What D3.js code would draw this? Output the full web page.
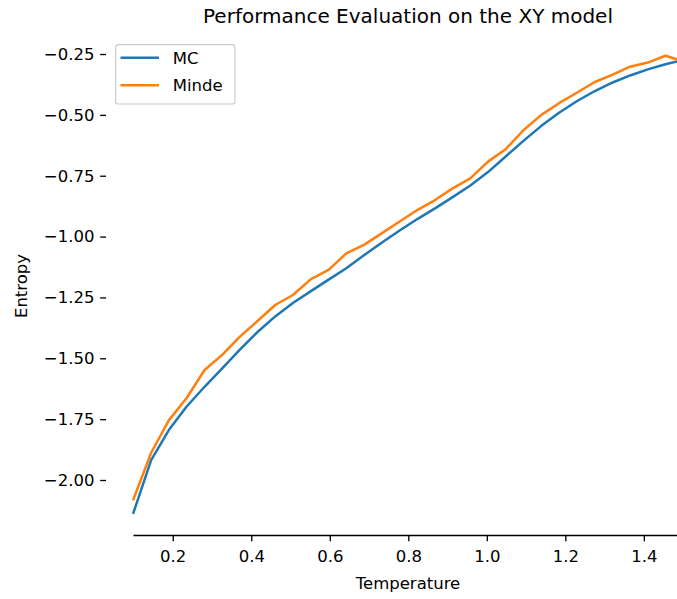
<!DOCTYPE html>
<html>
<head>
<meta charset="utf-8">
<script src="https://cdn.jsdelivr.net/npm/d3@7"></script>
<style>
    body { margin: 0; background: white; }
    text { font-family: "DejaVu Sans", sans-serif; }
</style>
</head>
<body>
<script>
var temperature = [0.100, 0.145, 0.190, 0.235, 0.281, 0.326, 0.371, 0.416, 0.461, 0.506,
                   0.552, 0.597, 0.642, 0.687, 0.732, 0.777, 0.823, 0.868, 0.913, 0.958,
                   1.003, 1.048, 1.094, 1.139, 1.184, 1.229, 1.274, 1.319, 1.365, 1.410,
                   1.455, 1.500];

var mcEntropy = [-2.134, -1.918, -1.795, -1.699, -1.617, -1.541, -1.464, -1.392, -1.328, -1.273,
                 -1.224, -1.177, -1.130, -1.077, -1.025, -0.976, -0.928, -0.884, -0.838, -0.790,
                 -0.735, -0.671, -0.606, -0.545, -0.491, -0.444, -0.403, -0.368, -0.338, -0.313,
                 -0.292, -0.275];

var mindeEntropy = [-2.079, -1.888, -1.755, -1.664, -1.548, -1.486, -1.411, -1.347, -1.281, -1.240,
                    -1.175, -1.137, -1.069, -1.034, -0.987, -0.939, -0.891, -0.850, -0.802, -0.761,
                    -0.692, -0.641, -0.562, -0.500, -0.452, -0.409, -0.366, -0.336, -0.302, -0.285,
                    -0.257, -0.280];

var xTicks = [0.2, 0.4, 0.6, 0.8, 1.0, 1.2, 1.4];
var yTicks = [-2.00, -1.75, -1.50, -1.25, -1.00, -0.75, -0.50, -0.25];

var seriesNames = ["MC", "Minde"];
var seriesColours = ["#1f77b4", "#ff7f0e"];

window.onload = function(){
    var width = 677, height = 599;

    var svg = d3.select("body")
                .append("svg")
                .attr("width", width)
                .attr("height", height);

    // axes box runs past the right edge of the picture
    var x = d3.scaleLinear()
                .domain([0.03, 1.57])
                .range([106, 710.6]);

    var y = d3.scaleLinear()
                .domain([-2.228, -0.178])
                .range([535.5, 36.5]);

    var series = [mcEntropy, mindeEntropy];

    // x axis
    var xAxis = svg.append("g")
                .attr("transform", "translate(0," + y(-2.228) + ")")
                .call(d3.axisBottom(x)
                    .tickValues(xTicks)
                    .tickSize(5.8)
                    .tickPadding(9.4)
                    .tickFormat(d3.format(".1f")));
    xAxis.select(".domain").remove();
    xAxis.selectAll(".tick line").attr("stroke", "black").attr("stroke-width", 1.33);
    xAxis.selectAll(".tick text")
                .attr("font-size", "16.5px")
                .attr("fill", "black");

    // bottom spine only from the first temperature on
    svg.append("line")
                .attr("x1", x(temperature[0]))
                .attr("x2", x(1.57))
                .attr("y1", y(-2.228))
                .attr("y2", y(-2.228))
                .attr("stroke", "black")
                .attr("stroke-width", 1.33);

    // y axis, no spine
    var yAxis = svg.append("g")
                .attr("transform", "translate(" + x(0.03) + ",0)")
                .call(d3.axisLeft(y)
                    .tickValues(yTicks)
                    .tickSize(5.8)
                    .tickPadding(5.8)
                    .tickFormat(d3.format(".2f")));
    yAxis.select(".domain").remove();
    yAxis.selectAll(".tick line").attr("stroke", "black").attr("stroke-width", 1.33);
    yAxis.selectAll(".tick text")
                .attr("font-size", "16.5px")
                .attr("fill", "black");

    // lines
    var line = d3.line()
                .x(function(d,i) {return x(temperature[i])})
                .y(function(d) {return y(d)});

    svg.selectAll("path.series")
                .data(series)
                .enter()
                .append("path")
                .attr("class", "series")
                .attr("fill", "none")
                .attr("stroke", function(d,i) {return seriesColours[i]})
                .attr("stroke-width", 2.5)
                .attr("stroke-linejoin", "round")
                .attr("stroke-linecap", "square")
                .attr("d", line);

    // labels
    svg.append("text")
                .attr("x", 408)
                .attr("y", 23)
                .attr("text-anchor", "middle")
                .attr("font-size", "20px")
                .attr("fill", "black")
                .text("Performance Evaluation on the XY model");

    svg.append("text")
                .attr("x", 408)
                .attr("y", 588.5)
                .attr("text-anchor", "middle")
                .attr("font-size", "16.5px")
                .attr("fill", "black")
                .text("Temperature");

    svg.append("text")
                .attr("transform", "translate(26.5,286) rotate(-90)")
                .attr("text-anchor", "middle")
                .attr("font-size", "16.5px")
                .attr("fill", "black")
                .text("Entropy");

    // legend
    var legend = svg.append("g");
    legend.append("rect")
                .attr("x", 115.7)
                .attr("y", 44.7)
                .attr("width", 119.3)
                .attr("height", 59.3)
                .attr("rx", 3.3)
                .attr("fill", "white")
                .attr("fill-opacity", 0.8)
                .attr("stroke", "#cccccc")
                .attr("stroke-width", 1.2);

    var items = legend.selectAll("g.item")
                .data(seriesNames)
                .enter()
                .append("g")
                .attr("class", "item")
                .attr("transform", function(d,i) {return "translate(0," + (57.7 + i * 27.6) + ")"});

    items.append("line")
                .attr("x1", 120.5)
                .attr("x2", 159)
                .attr("stroke", function(d,i) {return seriesColours[i]})
                .attr("stroke-width", 2.5);

    items.append("text")
                .attr("x", 172.7)
                .attr("dy", "0.36em")
                .attr("font-size", "16.5px")
                .attr("fill", "black")
                .text(function(d) {return d});
}
</script>
</body>
</html>
